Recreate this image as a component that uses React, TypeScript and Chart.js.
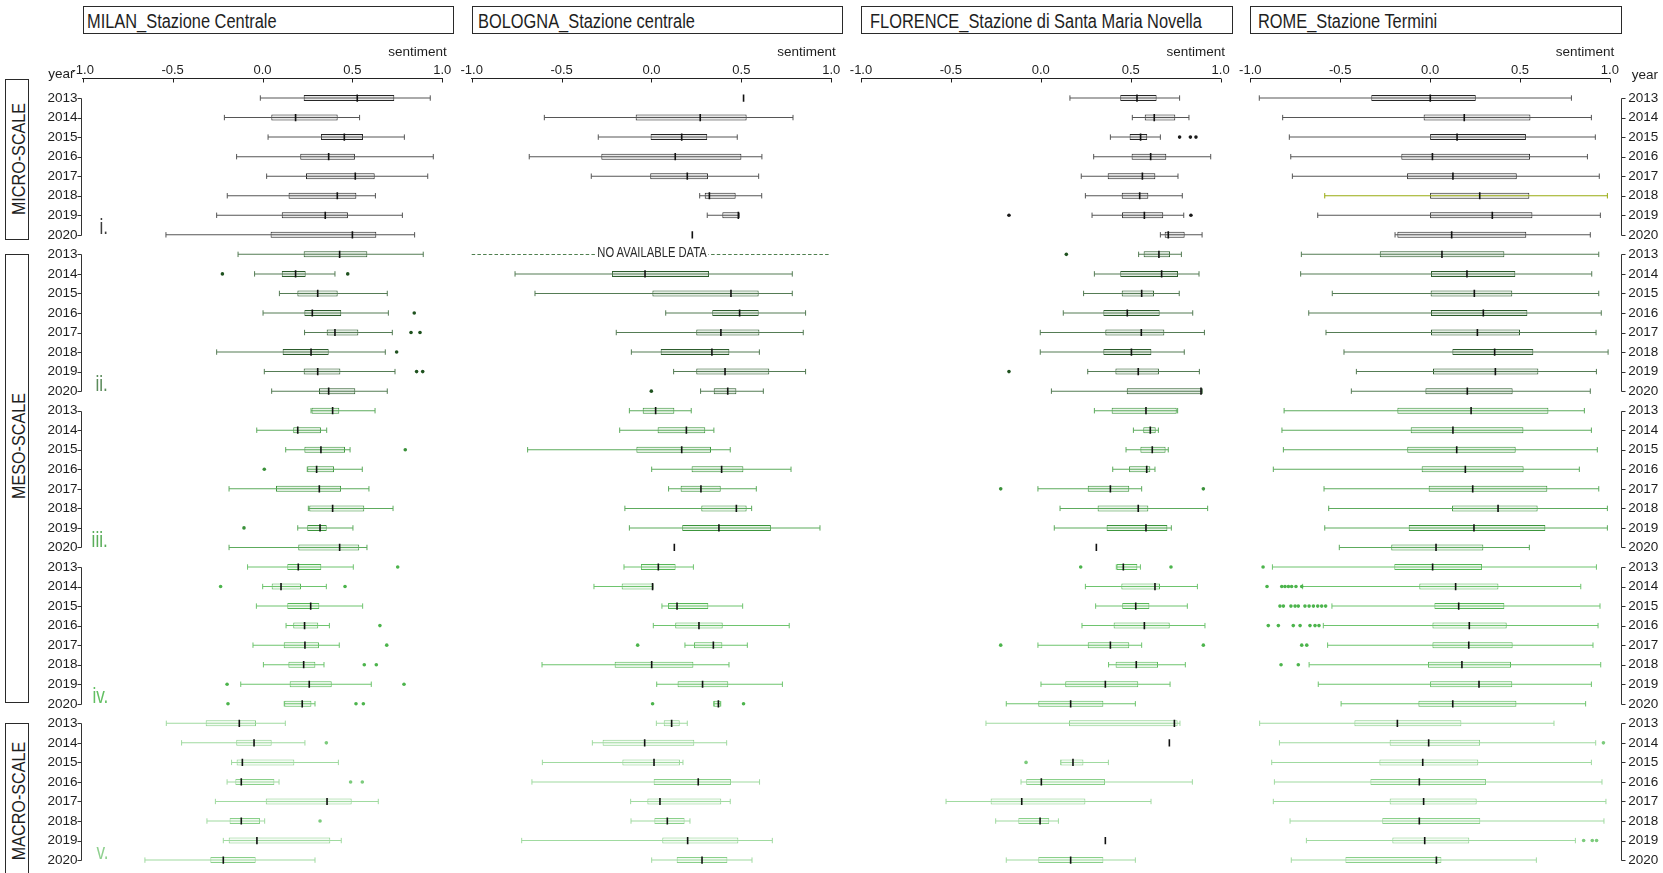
import React, { useEffect, useRef } from 'react';
import { Chart, registerables } from 'chart.js';

Chart.register(...registerables);
const FONT = '"Liberation Sans", Arial, Helvetica, sans-serif';
Chart.defaults.font.family = FONT;

// ---------------- data ----------------
const years = ['2013', '2014', '2015', '2016', '2017', '2018', '2019', '2020'];
const xTickValues = [-1, -0.5, 0, 0.5, 1];
const stationTitles = [
  'MILAN_Stazione Centrale',
  'BOLOGNA_Stazione centrale',
  'FLORENCE_Stazione di Santa Maria Novella',
  'ROME_Stazione Termini',
];
const scaleLabels = ['MICRO-SCALE', 'MESO-SCALE', 'MACRO-SCALE'];
const groupLabels = ['i.', 'ii.', 'iii.', 'iv.', 'v.'];
const noDataLabel = 'NO AVAILABLE DATA';

// each row: [min whisker, q1, median, q3, max whisker]; rows 0-7 = i., 8-15 = ii., 16-23 = iii., 24-31 = iv., 32-39 = v.
const milanStats = [
  [-0.012, 0.229, 0.527, 0.733, 0.933],
  [-0.212, 0.049, 0.184, 0.418, 0.54],
  [0.031, 0.325, 0.455, 0.559, 0.789],
  [-0.144, 0.21, 0.368, 0.514, 0.95],
  [0.023, 0.242, 0.516, 0.624, 0.919],
  [-0.196, 0.145, 0.416, 0.522, 0.628],
  [-0.255, 0.107, 0.349, 0.475, 0.778],
  [-0.537, 0.045, 0.5, 0.633, 0.846],
  [-0.136, 0.229, 0.429, 0.583, 0.894],
  [-0.044, 0.107, 0.184, 0.24, 0.403],
  [0.094, 0.194, 0.307, 0.418, 0.694],
  [0.003, 0.233, 0.277, 0.438, 0.7],
  [0.234, 0.357, 0.403, 0.533, 0.722],
  [-0.255, 0.112, 0.27, 0.368, 0.683],
  [0.01, 0.229, 0.307, 0.433, 0.737],
  [0.051, 0.314, 0.368, 0.516, 0.694],
  [0.27, 0.273, 0.39, 0.427, 0.626],
  [-0.032, 0.171, 0.196, 0.325, 0.357],
  [0.129, 0.233, 0.325, 0.459, 0.487],
  [0.249, 0.249, 0.301, 0.398, 0.555],
  [-0.186, 0.075, 0.316, 0.437, 0.592],
  [0.255, 0.26, 0.39, 0.566, 0.726],
  [0.196, 0.249, 0.32, 0.357, 0.503],
  [-0.186, 0.199, 0.429, 0.538, 0.581],
  [-0.083, 0.138, 0.199, 0.327, 0.505],
  [0.001, 0.051, 0.103, 0.214, 0.355],
  [-0.034, 0.138, 0.268, 0.316, 0.557],
  [0.131, 0.171, 0.234, 0.31, 0.372],
  [-0.053, 0.118, 0.236, 0.314, 0.427],
  [0.005, 0.144, 0.229, 0.294, 0.342],
  [-0.121, 0.151, 0.26, 0.385, 0.605],
  [0.121, 0.121, 0.221, 0.272, 0.292],
  [-0.535, -0.316, -0.129, -0.036, 0.127],
  [-0.45, -0.146, -0.047, 0.051, 0.236],
  [-0.172, -0.144, -0.112, 0.177, 0.422],
  [-0.197, -0.151, -0.118, 0.066, 0.092],
  [-0.262, 0.018, 0.359, 0.496, 0.644],
  [-0.309, -0.183, -0.118, -0.014, 0.012],
  [-0.218, -0.188, -0.031, 0.377, 0.438],
  [-0.654, -0.29, -0.218, -0.038, 0.292],
];
const milanOutliers = [
  [9, -0.223], [9, 0.474], [11, 0.844], [12, 0.826], [12, 0.876], [13, 0.746], [14, 0.857], [14, 0.891],
  [18, 0.794], [19, 0.01], [22, -0.103], [24, 0.752], [25, -0.233], [25, 0.459], [27, 0.653], [28, 0.691],
  [29, 0.566], [29, 0.633], [30, -0.197], [30, 0.787], [31, -0.192], [31, 0.52], [31, 0.561], [33, 0.355],
  [35, 0.49], [35, 0.555], [37, 0.32],
];

const bolognaStats = [
  [0.512, 0.512, 0.512, 0.512, 0.512],
  [-0.596, -0.088, 0.271, 0.529, 0.787],
  [-0.296, -0.005, 0.168, 0.31, 0.477],
  [-0.68, -0.279, 0.132, 0.5, 0.614],
  [-0.335, -0.007, 0.199, 0.314, 0.596],
  [0.268, 0.296, 0.322, 0.468, 0.613],
  [0.31, 0.394, 0.483, 0.487, 0.488],
  [0.227, 0.227, 0.227, 0.227, 0.227],
  null,
  [-0.759, -0.22, -0.036, 0.32, 0.783],
  [-0.648, 0.005, 0.442, 0.596, 0.783],
  [0.079, 0.338, 0.49, 0.596, 0.857],
  [-0.196, 0.249, 0.386, 0.6, 0.844],
  [-0.112, 0.051, 0.336, 0.433, 0.6],
  [0.123, 0.249, 0.409, 0.655, 0.857],
  [0.273, 0.346, 0.424, 0.472, 0.622],
  [-0.123, -0.049, 0.023, 0.127, 0.221],
  [-0.177, 0.034, 0.194, 0.299, 0.347],
  [-0.689, -0.084, 0.168, 0.331, 0.438],
  [0.001, 0.223, 0.39, 0.511, 0.776],
  [0.095, 0.162, 0.275, 0.385, 0.583],
  [-0.148, 0.277, 0.472, 0.529, 0.557],
  [-0.123, 0.171, 0.375, 0.664, 0.937],
  [0.127, 0.127, 0.127, 0.127, 0.127],
  [-0.153, -0.059, 0.038, 0.134, 0.233],
  [-0.32, -0.166, 0.006, 0.008, 0.008],
  [0.058, 0.092, 0.142, 0.316, 0.507],
  [0.01, 0.132, 0.264, 0.396, 0.766],
  [0.186, 0.236, 0.344, 0.394, 0.533],
  [-0.609, -0.205, 0.001, 0.233, 0.431],
  [0.029, 0.145, 0.284, 0.427, 0.728],
  [0.346, 0.346, 0.372, 0.385, 0.385],
  [0.027, 0.068, 0.112, 0.157, 0.199],
  [-0.329, -0.272, -0.038, 0.238, 0.418],
  [-0.607, -0.162, 0.014, 0.158, 0.175],
  [-0.665, 0.012, 0.26, 0.442, 0.601],
  [-0.116, -0.023, 0.047, 0.388, 0.438],
  [-0.114, 0.016, 0.088, 0.184, 0.214],
  [-0.722, 0.06, 0.201, 0.483, 0.672],
  [0.001, 0.14, 0.281, 0.422, 0.559],
];
const bolognaOutliers = [[15, -0.001], [28, -0.077], [31, 0.006], [31, 0.512]];

const florenceStats = [
  [0.162, 0.442, 0.535, 0.644, 0.772],
  [0.509, 0.578, 0.631, 0.748, 0.824],
  [0.387, 0.494, 0.555, 0.592, 0.665],
  [0.294, 0.505, 0.611, 0.698, 0.945],
  [0.225, 0.372, 0.565, 0.637, 0.763],
  [0.248, 0.45, 0.55, 0.598, 0.787],
  [0.285, 0.452, 0.576, 0.681, 0.795],
  [0.665, 0.689, 0.709, 0.8, 0.897],
  [0.544, 0.572, 0.657, 0.719, 0.782],
  [0.298, 0.442, 0.672, 0.763, 0.88],
  [0.238, 0.45, 0.561, 0.63, 0.77],
  [0.125, 0.348, 0.481, 0.661, 0.845],
  [-0.003, 0.359, 0.559, 0.687, 0.91],
  [-0.003, 0.348, 0.504, 0.615, 0.798],
  [0.261, 0.415, 0.542, 0.657, 0.882],
  [0.059, 0.478, 0.891, 0.898, 0.898],
  [0.298, 0.394, 0.585, 0.756, 0.761],
  [0.515, 0.57, 0.609, 0.639, 0.654],
  [0.474, 0.554, 0.62, 0.694, 0.709],
  [0.4, 0.491, 0.589, 0.609, 0.635],
  [-0.016, 0.261, 0.387, 0.492, 0.561],
  [0.107, 0.316, 0.542, 0.598, 0.928],
  [0.075, 0.366, 0.585, 0.704, 0.726],
  [0.309, 0.309, 0.309, 0.309, 0.309],
  [0.42, 0.422, 0.459, 0.537, 0.554],
  [0.248, 0.448, 0.635, 0.663, 0.871],
  [0.305, 0.453, 0.528, 0.604, 0.815],
  [0.229, 0.405, 0.576, 0.717, 0.913],
  [-0.016, 0.261, 0.387, 0.492, 0.561],
  [0.377, 0.416, 0.531, 0.652, 0.804],
  [0.001, 0.136, 0.359, 0.542, 0.719],
  [-0.192, -0.014, 0.166, 0.348, 0.526],
  [-0.305, 0.157, 0.743, 0.761, 0.774],
  [0.715, 0.715, 0.715, 0.715, 0.715],
  [0.11, 0.11, 0.179, 0.237, 0.376],
  [-0.11, -0.081, 0.003, 0.357, 0.843],
  [-0.527, -0.279, -0.106, 0.248, 0.613],
  [-0.251, -0.125, -0.004, 0.047, 0.098],
  [0.359, 0.359, 0.359, 0.359, 0.359],
  [-0.192, -0.014, 0.166, 0.348, 0.526],
];
const florenceOutliers = [
  [2, 0.772], [2, 0.832], [2, 0.863], [6, -0.177], [6, 0.835], [8, 0.142], [14, -0.177],
  [20, -0.223], [20, 0.904], [24, 0.222], [24, 0.724], [28, -0.223], [28, 0.904], [34, -0.082],
];

const romeStats = [
  [-0.95, -0.327, 0.001, 0.254, 0.786],
  [-0.82, -0.036, 0.19, 0.558, 0.897],
  [-0.783, 0.0, 0.15, 0.533, 0.919],
  [-0.775, -0.16, 0.013, 0.556, 0.875],
  [-0.766, -0.128, 0.127, 0.482, 0.941],
  [-0.586, 0.0, 0.276, 0.552, 0.986],
  [-0.625, 0.0, 0.346, 0.569, 0.947],
  [-0.195, -0.182, 0.12, 0.535, 0.891],
  [-0.716, -0.28, 0.066, 0.413, 0.938],
  [-0.72, 0.005, 0.205, 0.474, 0.899],
  [-0.544, 0.003, 0.246, 0.457, 0.938],
  [-0.675, 0.005, 0.296, 0.541, 0.952],
  [-0.579, 0.005, 0.263, 0.5, 0.923],
  [-0.479, 0.124, 0.359, 0.574, 0.99],
  [-0.41, 0.016, 0.363, 0.602, 0.925],
  [-0.438, -0.026, 0.207, 0.459, 0.891],
  [-0.812, -0.182, 0.228, 0.658, 0.858],
  [-0.824, -0.108, 0.127, 0.519, 0.897],
  [-0.816, -0.127, 0.148, 0.476, 0.93],
  [-0.872, -0.047, 0.196, 0.52, 0.83],
  [-0.59, -0.008, 0.237, 0.652, 0.938],
  [-0.564, 0.122, 0.378, 0.598, 0.986],
  [-0.586, -0.119, 0.244, 0.641, 0.986],
  [-0.505, -0.216, 0.033, 0.296, 0.552],
  [-0.877, -0.199, 0.014, 0.289, 0.925],
  [-0.709, -0.06, 0.142, 0.38, 0.838],
  [-0.546, 0.024, 0.159, 0.413, 0.945],
  [-0.594, 0.013, 0.218, 0.426, 0.934],
  [-0.57, 0.013, 0.215, 0.459, 0.906],
  [-0.673, -0.012, 0.177, 0.45, 0.949],
  [-0.622, 0.0, 0.272, 0.457, 0.897],
  [-0.495, -0.065, 0.126, 0.48, 0.865],
  [-0.948, -0.421, -0.182, 0.174, 0.689],
  [-0.838, -0.225, -0.008, 0.278, 0.921],
  [-0.881, -0.282, -0.041, 0.268, 0.897],
  [-0.866, -0.332, -0.06, 0.311, 0.956],
  [-0.872, -0.225, -0.036, 0.259, 0.978],
  [-0.779, -0.266, -0.06, 0.279, 0.967],
  [-0.688, -0.21, -0.03, 0.218, 0.808],
  [-0.772, -0.471, 0.035, 0.063, 0.591],
];
const romeOutliers = [
  [24, -0.929],
  [25, -0.907], [25, -0.825], [25, -0.807], [25, -0.788], [25, -0.77], [25, -0.746], [25, -0.714],
  [26, -0.835], [26, -0.816], [26, -0.774], [26, -0.751], [26, -0.733], [26, -0.696], [26, -0.673],
  [26, -0.649], [26, -0.625], [26, -0.603], [26, -0.581],
  [27, -0.9], [27, -0.844], [27, -0.761], [27, -0.723], [27, -0.668], [27, -0.64], [27, -0.618],
  [28, -0.714], [28, -0.686], [29, -0.829], [29, -0.733],
  [33, 0.964], [38, 0.854], [38, 0.902], [38, 0.926],
];

const panelStats = [milanStats, bolognaStats, florenceStats, romeStats];
const panelOutliers = [milanOutliers, bolognaOutliers, florenceOutliers, romeOutliers];
const noDataRows = [[], [8], [], []];

// ---------------- style ----------------
const GROUP_BORDER = ['#262626', '#2d5c2d', '#3c953c', '#58b858', '#8ad08a'];
const GROUP_WHISKER = ['#565656', '#557c55', '#5dab5d', '#6ec46e', '#a0daa0'];
const GROUP_FILL = ['#e8e8e8', '#e3ece3', '#ebf5eb', '#eff9ef', '#f3fbf3'];
const GROUP_POINT = ['#1a1a1a', '#1f521f', '#3a913a', '#4cb44c', '#7ccb7c'];
const NUMERAL_COLOR = ['#3d3d3d', '#5b8b5b', '#5aad5a', '#62bf62', '#8fd08f'];
const OLIVE = '#98ab10';

const W = 1663;
const H = 873;
const PANEL_LEFT = [82.7, 471.7, 861, 1250.3];
const PANEL_WIDTH = 359.6;
const CANVAS_TOP = 40;
const AREA_TOP = 78.5;
const CANVAS_H = H - CANVAS_TOP;
const Y_MIN = -1;
const Y_MAX = 39.66;
const rowIndex = Array.from({ length: 40 }, (_, i) => i);
const rowY = (k: number) => AREA_TOP + ((k - Y_MIN) * (H - AREA_TOP)) / (Y_MAX - Y_MIN);

function geom(p: number) {
  const L = PANEL_LEFT[p];
  const R = L + PANEL_WIDTH;
  if (p === 0) {
    const left = 40;
    const w = Math.ceil(R + 21 - left);
    return { left, w, padL: 0, padR: w - (R - left), yWidth: L - left };
  }
  if (p === 3) {
    const left = Math.floor(L - 20);
    const w = W - left;
    return { left, w, padL: L - left, padR: 0, yWidth: w - (R - left) };
  }
  const left = Math.floor(L - 20);
  const w = Math.ceil(R + 20) - left;
  return { left, w, padL: L - left, padR: w - (R - left), yWidth: 0 };
}

function buildDatasets(p: number) {
  const stats = panelStats[p];
  const outliers = panelOutliers[p];
  const whisker: any[] = [];
  const whiskerCol: string[] = [];
  const box: any[] = [];
  const boxFill: string[] = [];
  const boxLine: string[] = [];
  const caps: any[] = [];
  const capCol: string[] = [];
  const meds: any[] = [];
  stats.forEach((s: any, row: number) => {
    if (!s) return;
    const [mn, q1, md, q3, mx] = s;
    const g = Math.floor(row / 8);
    meds.push({ x: md, y: row });
    if (mx - mn > 1e-9) {
      const wc = p === 3 && row === 5 ? OLIVE : GROUP_WHISKER[g];
      whisker.push({ x: [mn, mx], y: row });
      whiskerCol.push(wc);
      box.push({ x: [q1, q3], y: row });
      boxFill.push(GROUP_FILL[g]);
      boxLine.push(GROUP_BORDER[g]);
      caps.push({ x: mn, y: row }, { x: mx, y: row });
      capCol.push(wc, wc);
    }
  });
  const outPts = outliers.map(([row, v]) => ({ x: v, y: row }));
  const outCol = outliers.map(([row]) => GROUP_POINT[Math.floor(row / 8)]);
  return [
    {
      type: 'bar', data: box, backgroundColor: boxFill, borderColor: boxLine, borderWidth: 1,
      borderSkipped: false, grouped: false, barThickness: 6, maxBarThickness: 6, inflateAmount: 0, order: 5,
    },
    {
      type: 'bar', data: whisker, backgroundColor: whiskerCol, borderWidth: 0,
      grouped: false, barThickness: 1, maxBarThickness: 1, inflateAmount: 0, order: 4,
    },
    {
      type: 'scatter', data: caps, pointStyle: 'line', pointRotation: 90, pointRadius: 2.7,
      pointBorderWidth: 1, pointBorderColor: capCol, order: 3,
    },
    {
      type: 'scatter', data: outPts, pointStyle: 'circle', pointRadius: 1.8, pointBorderWidth: 0,
      pointBackgroundColor: outCol, pointBorderColor: outCol, order: 2,
    },
    {
      type: 'scatter', data: meds, pointStyle: 'line', pointRotation: 90, pointRadius: 3.6,
      pointBorderWidth: 1.6, pointBorderColor: '#111111', order: 1,
    },
  ];
}

function makePlugin(p: number) {
  return {
    id: 'panelDecor' + p,
    beforeDatasetsDraw(chart: any) {
      const { ctx, scales } = chart;
      const x = scales.x;
      const y = scales.y;
      noDataRows[p].forEach((row: number) => {
        const py = Math.round(y.getPixelForValue(row)) + 0.5;
        ctx.save();
        ctx.strokeStyle = '#4f7f4f';
        ctx.lineWidth = 1;
        ctx.setLineDash([3.5, 2.2]);
        ctx.beginPath();
        ctx.moveTo(x.getPixelForValue(-1), py);
        ctx.lineTo(x.getPixelForValue(0.99), py);
        ctx.stroke();
        ctx.restore();
      });
    },
    afterDraw(chart: any) {
      const { ctx, chartArea, scales } = chart;
      const x = scales.x;
      const y = scales.y;
      ctx.save();
      ctx.strokeStyle = '#222222';
      ctx.lineWidth = 1;
      xTickValues.forEach((v) => {
        const px = Math.round(x.getPixelForValue(v)) + 0.5;
        ctx.beginPath();
        ctx.moveTo(px, chartArea.top);
        ctx.lineTo(px, chartArea.top + 4);
        ctx.stroke();
      });
      if (p === 0 || p === 3) {
        ctx.strokeStyle = '#333333';
        const bx = Math.floor(p === 0 ? chartArea.left - 1 : chartArea.right + 12) + 0.5;
        const dir = p === 0 ? -1 : 1;
        for (let g = 0; g < 5; g++) {
          ctx.beginPath();
          ctx.moveTo(bx, Math.round(y.getPixelForValue(g * 8)) + 0.5);
          ctx.lineTo(bx, Math.round(y.getPixelForValue(g * 8 + 7)) + 0.5);
          ctx.stroke();
          for (let r = g * 8; r < g * 8 + 8; r++) {
            const py = Math.round(y.getPixelForValue(r)) + 0.5;
            ctx.beginPath();
            ctx.moveTo(bx, py);
            ctx.lineTo(bx + dir * 4, py);
            ctx.stroke();
          }
        }
      }
      ctx.restore();
    },
  };
}

function buildConfig(p: number): any {
  const g = geom(p);
  const showY = p === 0 || p === 3;
  return {
    type: 'bar',
    data: { datasets: buildDatasets(p) },
    options: {
      indexAxis: 'y',
      responsive: false,
      animation: false,
      devicePixelRatio: 1,
      events: [],
      layout: { autoPadding: false, padding: { left: g.padL, right: g.padR, top: 0, bottom: 0 } },
      plugins: { legend: { display: false }, tooltip: { enabled: false } },
      scales: {
        x: {
          type: 'linear',
          position: 'top',
          offset: false,
          min: -1,
          max: 1,
          grid: { display: false, drawTicks: false, offset: false },
          border: { display: true, color: '#222222', width: 1 },
          ticks: {
            padding: 0,
            color: '#1e1e1e',
            font: { size: 13 },
            autoSkip: false,
            maxRotation: 0,
            callback: (v: any) => Number(v).toFixed(1),
          },
          afterBuildTicks: (s: any) => {
            s.ticks = xTickValues.map((v) => ({ value: v }));
          },
          afterFit: (s: any) => {
            s.height = AREA_TOP - CANVAS_TOP;
            s.paddingLeft = 0;
            s.paddingRight = 0;
          },
        },
        y: {
          type: 'linear',
          position: p === 3 ? 'right' : 'left',
          display: showY,
          offset: false,
          reverse: true,
          min: Y_MIN,
          max: Y_MAX,
          grid: { display: false, drawTicks: false, offset: false },
          border: { display: false },
          ticks: {
            padding: p === 3 ? 18.4 : 5.2,
            color: '#1e1e1e',
            font: { size: 13.5 },
            autoSkip: false,
            callback: (v: any) => years[Math.round(Number(v)) % 8],
          },
          afterBuildTicks: (s: any) => {
            s.ticks = rowIndex.map((v) => ({ value: v }));
          },
          afterFit: (s: any) => {
            if (showY) s.width = g.yWidth;
            s.paddingTop = 0;
            s.paddingBottom = 0;
          },
        },
      },
    },
    plugins: [makePlugin(p)],
  };
}

function Panel({ p }: { p: number }) {
  const ref = useRef<HTMLCanvasElement | null>(null);
  useEffect(() => {
    if (!ref.current) return;
    const chart = new Chart(ref.current, buildConfig(p));
    return () => chart.destroy();
  }, [p]);
  const g = geom(p);
  return (
    <canvas
      ref={ref}
      width={g.w}
      height={CANVAS_H}
      style={{ position: 'absolute', left: g.left, top: CANVAS_TOP, width: g.w, height: CANVAS_H }}
    />
  );
}

function Label(props: any) {
  const { x, base, size, align = 'left', sx = 1, color = '#1e1e1e', bg, children } = props;
  const style: any = {
    position: 'absolute',
    top: base - 0.8465 * size,
    fontSize: size,
    lineHeight: `${size}px`,
    color,
    whiteSpace: 'nowrap',
    fontFamily: FONT,
  };
  if (align === 'left') {
    style.left = x;
    style.transformOrigin = 'left center';
    style.transform = `scaleX(${sx})`;
  } else if (align === 'right') {
    style.right = W - x;
    style.transformOrigin = 'right center';
    style.transform = `scaleX(${sx})`;
  } else {
    style.left = x;
    style.transform = `translateX(-50%) scaleX(${sx})`;
  }
  if (bg) {
    style.background = bg;
    style.padding = '0 2px';
  }
  return <div style={style}>{children}</div>;
}

const titleOffsets = [4.6, 6, 9, 7.4];
const scaleBoxes = [
  { top: 78.7, bottom: 240, cy: 159 },
  { top: 254, bottom: 703.3, cy: 445.5 },
  { top: 723.3, bottom: 900, cy: 801 },
];

export default function App() {
  return (
    <div
      style={{
        position: 'absolute', left: 0, top: 0, width: W, height: H, background: '#ffffff',
        overflow: 'hidden', fontFamily: FONT,
      }}
    >
      {stationTitles.map((t, p) => (
        <div
          key={'tb' + p}
          style={{
            position: 'absolute', left: PANEL_LEFT[p], top: 5.7, width: 371.6, height: 28.6,
            border: '1px solid #2a2a2a', boxSizing: 'border-box',
          }}
        />
      ))}
      {stationTitles.map((t, p) => (
        <Label key={'tt' + p} x={PANEL_LEFT[p] + titleOffsets[p]} base={28.3} size={20} sx={0.82}>
          {t}
        </Label>
      ))}
      {scaleBoxes.map((b, i) => (
        <div
          key={'sb' + i}
          style={{
            position: 'absolute', left: 4.7, top: b.top, width: 24, height: b.bottom - b.top,
            border: '1px solid #2a2a2a', boxSizing: 'border-box',
          }}
        />
      ))}
      {scaleBoxes.map((b, i) => (
        <div
          key={'st' + i}
          style={{
            position: 'absolute', left: 18.3, top: b.cy, fontSize: 19, lineHeight: '19px',
            whiteSpace: 'nowrap', color: '#1e1e1e',
            transform: 'translate(-50%, -50%) rotate(-90deg) scaleX(0.85)',
          }}
        >
          {scaleLabels[i]}
        </div>
      ))}
      {[0, 1, 2, 3].map((p) => (
        <Panel key={'pn' + p} p={p} />
      ))}
      {[0, 1, 2, 3].map((p) => (
        <Label key={'sn' + p} x={PANEL_LEFT[p] + 364} base={56.7} size={13.5} align="right">
          sentiment
        </Label>
      ))}
      <Label x={48.3} base={78.3} size={13.5}>year</Label>
      <Label x={1631.7} base={79.5} size={13.5}>year</Label>
      {groupLabels.map((t, g) => (
        <Label key={'gl' + g} x={108} base={rowY(g * 8 + 7)} size={22} sx={0.78} align="right" color={NUMERAL_COLOR[g]}>
          {t}
        </Label>
      ))}
      <Label x={PANEL_LEFT[1] + PANEL_WIDTH / 2} base={257.3} size={14} sx={0.8} align="center" bg="#ffffff" color="#2a2a2a">
        {noDataLabel}
      </Label>
    </div>
  );
}
